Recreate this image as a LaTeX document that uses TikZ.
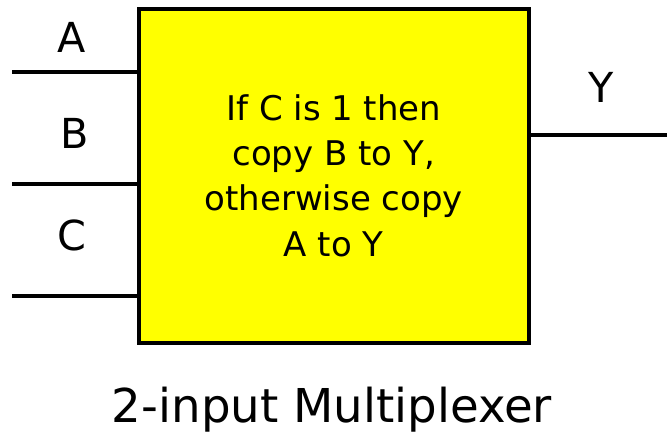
\documentclass[tikz,border=0pt]{standalone}
\usepackage{fontspec}
\setmainfont{DejaVu Sans}
\usetikzlibrary{positioning}
\definecolor{muxyellow}{RGB}{255,255,0}

\begin{document}
\begin{tikzpicture}[x=0.75pt, y=-0.75pt,
    muxbox/.style={rectangle, draw=black, fill=muxyellow, line width=3pt,
                   minimum width=292.9pt, minimum height=250.5pt, align=center,
                   font=\fontsize{25.5}{34}\selectfont},
    wire/.style={line width=2.6pt},
    pinlabel/.style={font=\fontsize{31}{34}\selectfont, inner sep=0pt}
  ]
    \useasboundingbox (0,0) rectangle (667,444);

    \node[muxbox] (mux) at (333.8,175.5)
      {If C is 1 then\\copy B to Y,\\otherwise copy\\A to Y};

    % input and output wires
    \coordinate (inA) at (12,72);
    \coordinate (inB) at (12,184);
    \coordinate (inC) at (12,296);
    \coordinate (outY) at (667,135);
    \draw[wire] (inA) -- (inA -| mux.west);
    \draw[wire] (inB) -- (inB -| mux.west);
    \draw[wire] (inC) -- (inC -| mux.west);
    \draw[wire] (outY -| mux.east) -- (outY);

    % pin labels
    \node[pinlabel] (labA) at (72,37) {A};
    \node[pinlabel] (labB) at (75,133) {B};
    \node[pinlabel] (labC) at (72,235) {C};
    \node[pinlabel] (labY) at (601,87) {Y};

    \node[font=\fontsize{35}{40}\selectfont] (title) at (332,410) {2-input Multiplexer};
\end{tikzpicture}
\end{document}
